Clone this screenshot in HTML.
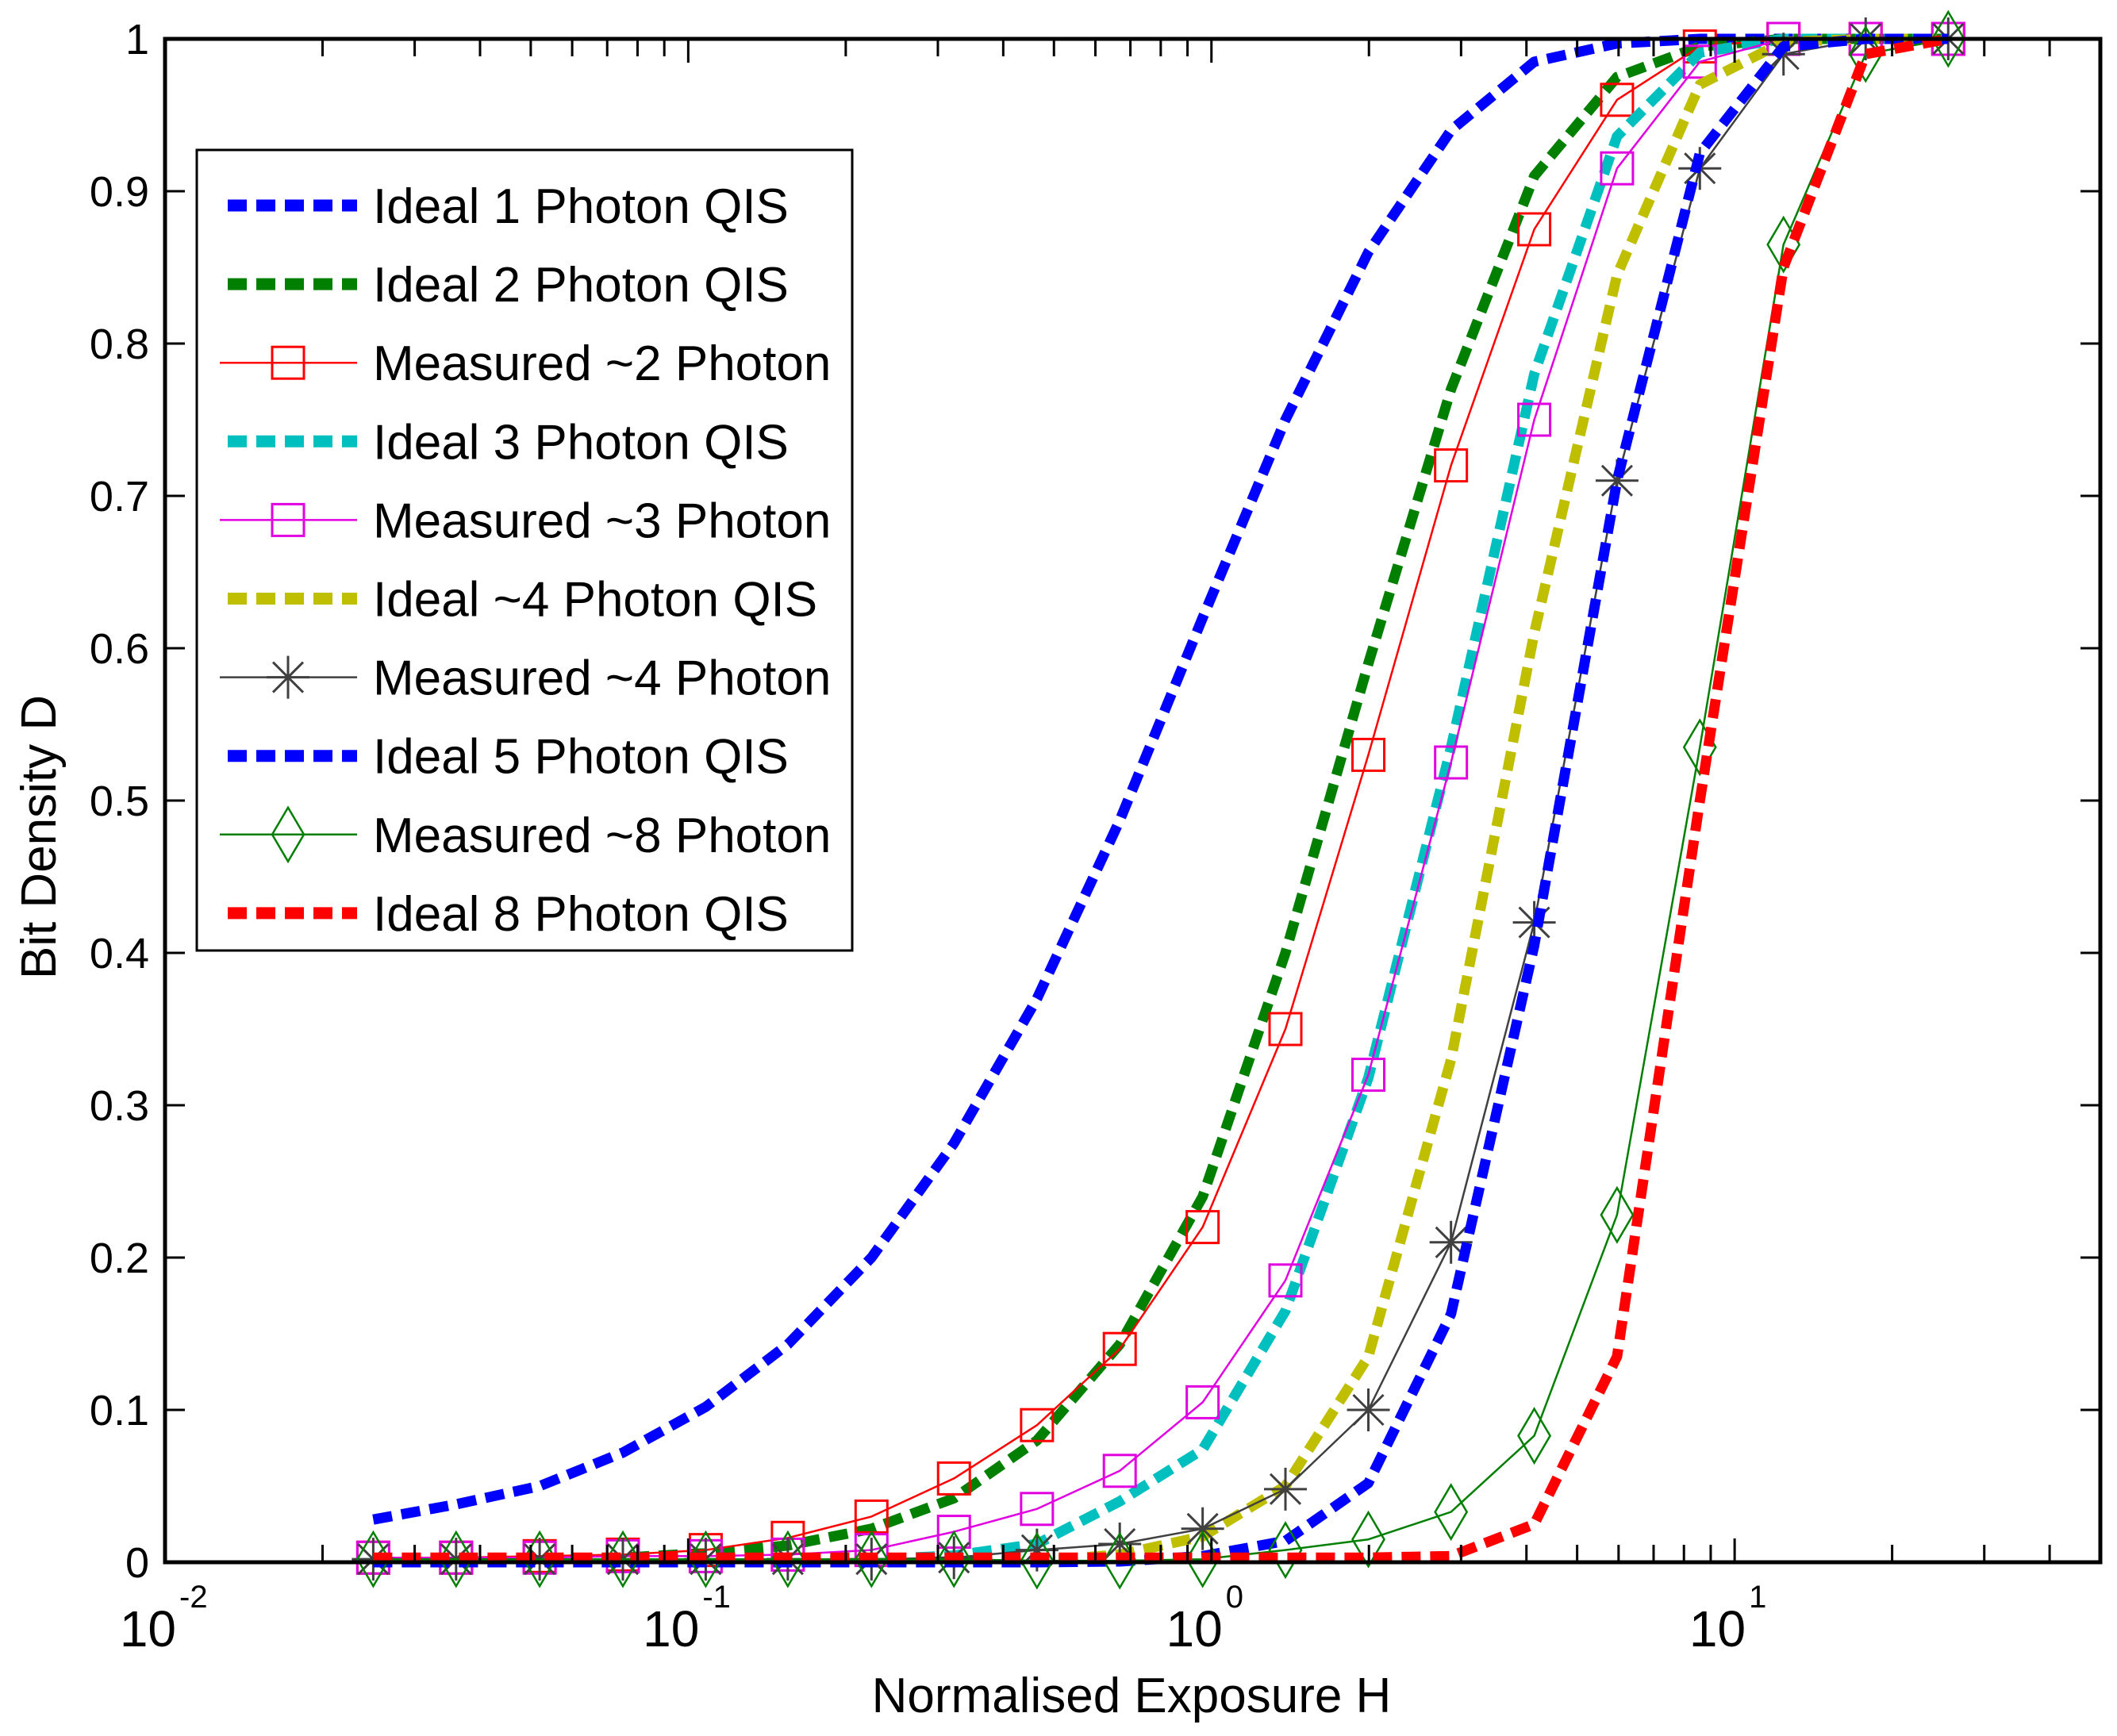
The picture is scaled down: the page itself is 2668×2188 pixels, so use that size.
<!DOCTYPE html>
<html><head><meta charset="utf-8"><style>
html,body{margin:0;padding:0;background:#fff;}
svg{display:block;font-family:"Liberation Sans",sans-serif;}
</style></head><body>
<svg id="chart" width="2668" height="2188" viewBox="0 0 2668 2188">
<rect x="0" y="0" width="2668" height="2188" fill="#fff"/>
<g id="plot"></g>
<g id="axes"></g>
<g id="legend"></g>
</svg>
<script>
const xValues=[0.025,0.036,0.052,0.075,0.108,0.155,0.224,0.322,0.464,0.668,0.962,1.385,1.995,2.87,4.14,5.96,8.58,12.4,17.8,25.6];
const ideal1=[0.028,0.038,0.05,0.072,0.102,0.143,0.2,0.275,0.37,0.487,0.62,0.75,0.86,0.94,0.985,0.997,1,1,1,1];
const ideal2=[0,0.001,0.001,0.003,0.006,0.011,0.022,0.042,0.08,0.143,0.24,0.4,0.59,0.77,0.91,0.975,0.995,1,1,1];
const measured2=[0.003,0.003,0.004,0.005,0.008,0.016,0.03,0.055,0.09,0.14,0.22,0.35,0.53,0.72,0.875,0.96,0.995,1,1,1];
const ideal3=[0,0,0,0,0,0.0005,0.0018,0.0044,0.012,0.04,0.074,0.165,0.318,0.535,0.78,0.936,0.991,1,1,1];
const measured3=[0.003,0.003,0.003,0.004,0.004,0.005,0.008,0.02,0.035,0.06,0.105,0.185,0.32,0.525,0.75,0.915,0.985,1,1,1];
const ideal4=[0,0,0,0,0,0,0,0.0003,0.001,0.005,0.017,0.05,0.135,0.33,0.61,0.845,0.97,0.998,1,1];
const measured4=[0.002,0.002,0.002,0.002,0.002,0.002,0.002,0.003,0.008,0.012,0.022,0.048,0.1,0.21,0.42,0.71,0.915,0.99,1,1];
const ideal5=[0,0,0,0,0,0,0,0,0,0.0005,0.004,0.014,0.052,0.163,0.405,0.71,0.925,0.995,1,1];
const measured8=[0.002,0.002,0.002,0.002,0.002,0.002,0.002,0.002,0.001,0.001,0.002,0.008,0.015,0.033,0.083,0.228,0.535,0.865,0.99,1];
const ideal8=[0.003,0.003,0.003,0.003,0.003,0.003,0.003,0.003,0.003,0.003,0.003,0.003,0.003,0.004,0.025,0.135,0.5,0.85,0.99,1];
const yTicks=[0,0.1,0.2,0.3,0.4,0.5,0.6,0.7,0.8,0.9,1];
const yTickLabels=["0","0.1","0.2","0.3","0.4","0.5","0.6","0.7","0.8","0.9","1"];
const xDecades=[-2,-1,0,1];
const xDecadeLabels=["-2","-1","0","1"];
const legendLabels=["Ideal 1 Photon QIS","Ideal 2 Photon QIS","Measured ~2 Photon","Ideal 3 Photon QIS","Measured ~3 Photon","Ideal ~4 Photon QIS","Measured ~4 Photon","Ideal 5 Photon QIS","Measured ~8 Photon","Ideal 8 Photon QIS"];

const L=208,R=2647,T=49,B=1969;
const XMIN=-2,XMAX=Math.log10(50);
function sx(v){return L+(Math.log10(v)-XMIN)/(XMAX-XMIN)*(R-L);}
function sy(v){return B-v*(B-T);}
const NS="http://www.w3.org/2000/svg";
function mk(tag,attrs,parent){const e=document.createElementNS(NS,tag);for(const k in attrs)e.setAttribute(k,attrs[k]);parent.appendChild(e);return e;}

const series=[
 {id:"ideal-1-photon",data:ideal1,color:"#0000ff",dash:true},
 {id:"ideal-2-photon",data:ideal2,color:"#007f00",dash:true},
 {id:"measured-2-photon",data:measured2,color:"#ff0000",marker:"square"},
 {id:"ideal-3-photon",data:ideal3,color:"#00bfbf",dash:true},
 {id:"measured-3-photon",data:measured3,color:"#e000e0",marker:"square"},
 {id:"ideal-4-photon",data:ideal4,color:"#bfbf00",dash:true},
 {id:"measured-4-photon",data:measured4,color:"#404040",marker:"star"},
 {id:"ideal-5-photon",data:ideal5,color:"#0000ff",dash:true},
 {id:"measured-8-photon",data:measured8,color:"#007f00",marker:"diamond"},
 {id:"ideal-8-photon",data:ideal8,color:"#ff0000",dash:true}
];
const plot=document.getElementById('plot');
const axes=document.getElementById('axes');
const legend=document.getElementById('legend');

function drawMarker(type,x,y,color,parent){
  let e;
  if(type==="square"){e=mk('rect',{x:x-20,y:y-20,width:40,height:40,fill:'none',stroke:color,'stroke-width':3},parent);}
  else if(type==="diamond"){e=mk('polygon',{points:`${x},${y-34} ${x+20},${y} ${x},${y+34} ${x-20},${y}`,fill:'none',stroke:color,'stroke-width':2.5},parent);}
  else {e=mk('path',{d:`M${x-27} ${y}H${x+27}M${x} ${y-27}V${y+27}M${x-19} ${y-19}L${x+19} ${y+19}M${x-19} ${y+19}L${x+19} ${y-19}`,stroke:color,'stroke-width':3,fill:'none'},parent);}
  return e;
}

series.forEach(s=>{
  const g=mk('g',{},plot);
  
  
  const pts=s.data.map((v,i)=>sx(xValues[i]).toFixed(1)+','+sy(v).toFixed(1)).join(' ');
  const line=mk('polyline',{points:pts,fill:'none',stroke:s.color,'stroke-width':s.dash?13:2.5,'stroke-dasharray':s.dash?'24 12':'none','stroke-linejoin':'round'},g);
  
  
  if(s.marker){
    s.data.forEach((v,i)=>{
      const m=drawMarker(s.marker,sx(xValues[i]),sy(v),s.color,g);
      
      
    });
  }
});

const box=mk('rect',{x:L,y:T,width:R-L,height:B-T,fill:'none',stroke:'#000','stroke-width':5},axes);


yTicks.forEach((v,i)=>{
  const y=sy(v);
  const t=mk('path',{d:`M${L} ${y}H${L+25}M${R} ${y}H${R-25}`,stroke:'#000','stroke-width':3},axes);
  
  
  const lb=mk('text',{x:188,y:y+19,'font-size':54,'text-anchor':'end',fill:'#000'},axes);
  lb.textContent=yTickLabels[i];
  
  
});
xDecades.forEach((d,i)=>{
  for(let m=1;m<=9;m++){
    const v=m*Math.pow(10,d);
    if(Math.log10(v)>XMAX)break;
    const x=sx(v);
    const len=m===1?30:22;
    const t=mk('path',{d:`M${x} ${B}V${B-len}M${x} ${T}V${T+len}`,stroke:'#000','stroke-width':3},axes);
    
    
  }
  const x=sx(Math.pow(10,d));
  const lb=mk('text',{x:x+14,y:2075,'font-size':64,'text-anchor':'end',fill:'#000'},axes);
  lb.textContent="10";
  
  
  const sp=mk('text',{x:x+18,y:2026,'font-size':40,fill:'#000'},axes);
  sp.textContent=xDecadeLabels[i];
  
  
});
const xl=mk('text',{x:1426,y:2158,'font-size':62,'text-anchor':'middle',fill:'#000'},axes);
xl.textContent="Normalised Exposure H";


const yl=mk('text',{x:0,y:0,'font-size':62,'text-anchor':'middle',fill:'#000',transform:'translate(70,1055) rotate(-90)'},axes);
yl.textContent="Bit Density D";



const lbox=mk('rect',{x:248,y:189,width:826,height:1009,fill:'#fff',stroke:'#000','stroke-width':3},legend);


series.forEach((s,i)=>{
  const y=259+i*99.1;
  const g=mk('g',{},legend);
  
  
  if(s.dash){
    mk('line',{x1:287,y1:y,x2:450,y2:y,stroke:s.color,'stroke-width':15,'stroke-dasharray':'24 12'},g);
  }else{
    mk('line',{x1:277,y1:y,x2:450,y2:y,stroke:s.color,'stroke-width':2.5},g);
    drawMarker(s.marker,363,y,s.color,g);
  }
  const t=mk('text',{x:470,y:y+22,'font-size':62,fill:'#000'},g);
  t.textContent=legendLabels[i];
});
</script>
</body></html>
